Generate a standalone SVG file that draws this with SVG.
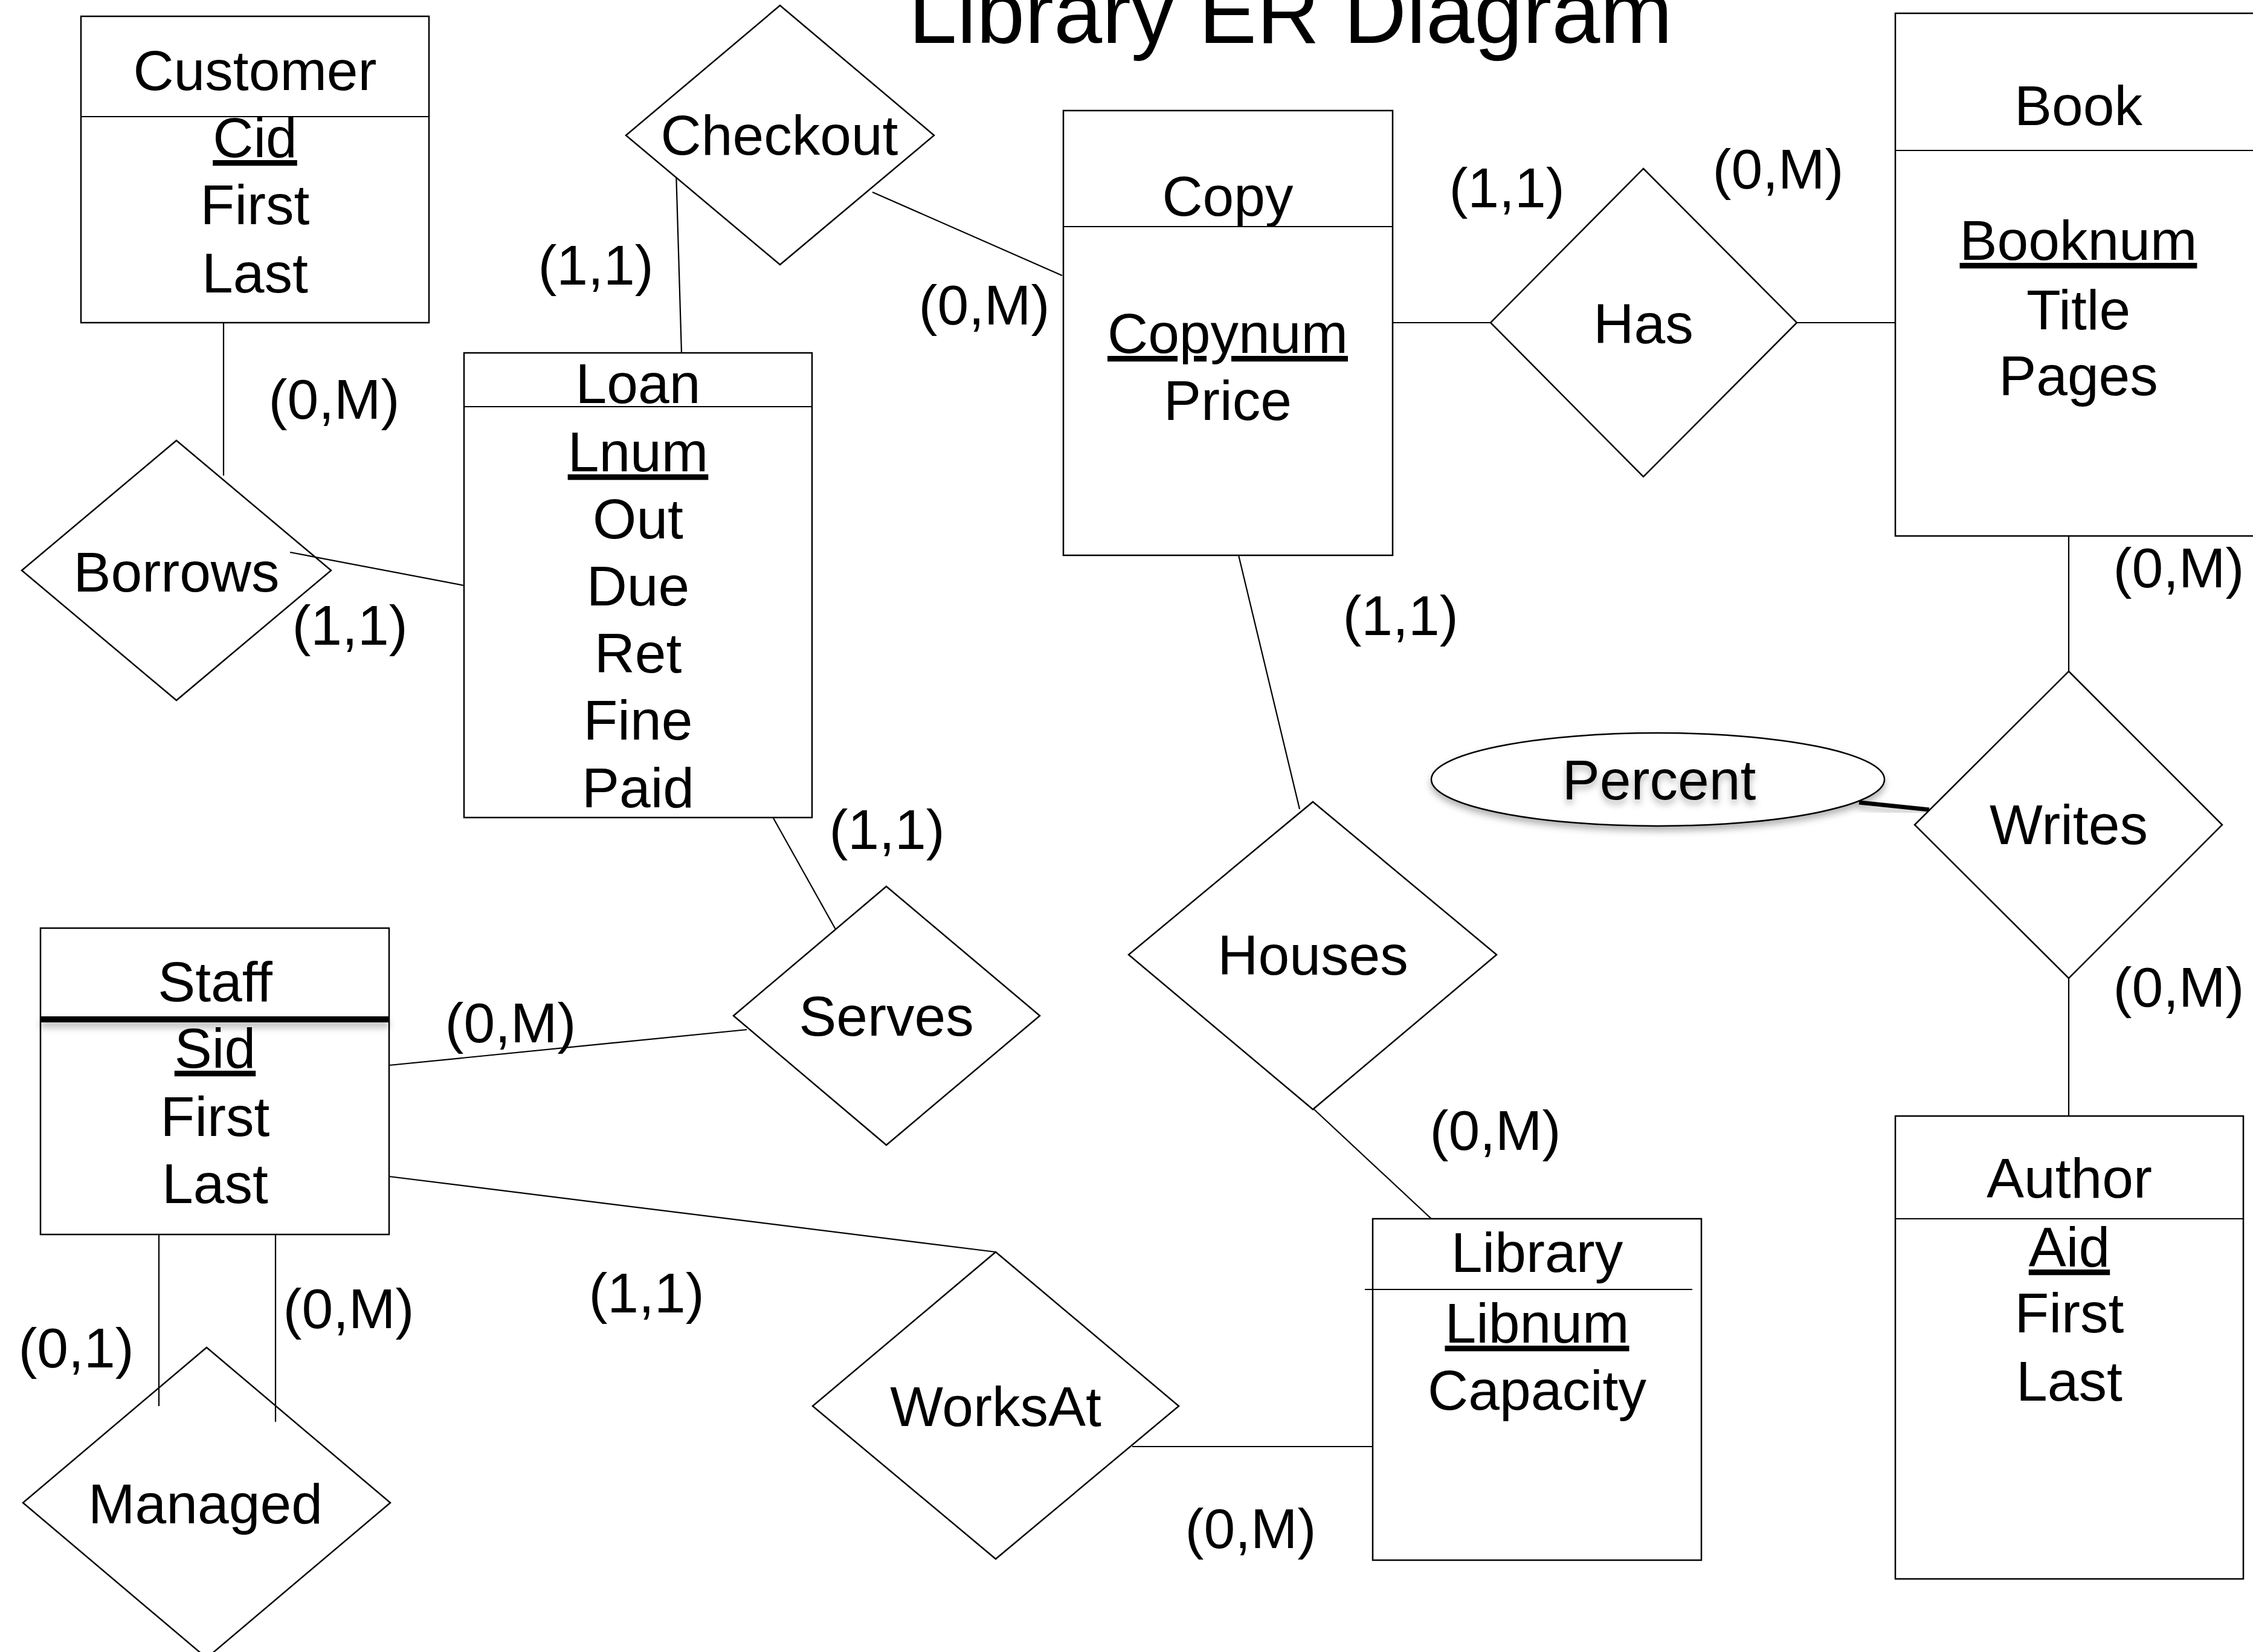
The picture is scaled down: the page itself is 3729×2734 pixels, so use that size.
<svg xmlns="http://www.w3.org/2000/svg" width="3729" height="2734" viewBox="0 0 3729 2734">
<style>
.bx{fill:#fff;stroke:#000;stroke-width:2.5}
.ln{stroke:#000;stroke-width:2.2;fill:none}
.t{font-family:"Liberation Sans",Arial,sans-serif;font-size:93px;text-anchor:middle;fill:#000}
.u{text-decoration:underline}
</style>
<defs>
<filter id="sh" x="-20%" y="-40%" width="140%" height="180%">
<feDropShadow dx="0" dy="7" stdDeviation="6" flood-color="#000" flood-opacity="0.3"/>
</filter>
<filter id="sh2" filterUnits="userSpaceOnUse" x="40" y="1660" width="640" height="80">
<feDropShadow dx="0" dy="8" stdDeviation="6" flood-color="#000" flood-opacity="0.3"/>
</filter>
</defs>
<rect width="3729" height="2734" fill="#fff"/>
<text class="t" x="2136" y="71" style="font-size:144px">Library ER Diagram</text>
<g id="connectors">
<line class="ln" x1="370" y1="534" x2="370" y2="787"/>
<line class="ln" x1="480" y1="914" x2="768" y2="969"/>
<line class="ln" x1="1119" y1="282" x2="1128" y2="584"/>
<line class="ln" x1="1444" y1="318" x2="1758" y2="456"/>
<line class="ln" x1="2305" y1="534" x2="2467" y2="534"/>
<line class="ln" x1="2974" y1="534" x2="3137" y2="534"/>
<line class="ln" x1="2050" y1="919" x2="2151" y2="1339"/>
<line class="ln" x1="2175" y1="1836" x2="2369" y2="2017"/>
<line class="ln" x1="3424" y1="887" x2="3424" y2="1111"/>
<line class="ln" x1="3424" y1="1619" x2="3424" y2="1847"/>
<line class="ln" x1="3077" y1="1328" x2="3193" y2="1340" style="stroke-width:7" filter="url(#sh)"/>
<line class="ln" x1="1280" y1="1354" x2="1383" y2="1538"/>
<line class="ln" x1="644" y1="1763" x2="1236" y2="1704"/>
<line class="ln" x1="644" y1="1947" x2="1648" y2="2072"/>
<line class="ln" x1="1874" y1="2394" x2="2272" y2="2394"/>
<line class="ln" x1="263" y1="2025" x2="263" y2="2327"/>
<line class="ln" x1="456" y1="2043" x2="456" y2="2353"/>
</g>
<g id="labels">
<text class="t" x="553" y="693">(0,M)</text>
<text class="t" x="579" y="1067">(1,1)</text>
<text class="t" x="986" y="471">(1,1)</text>
<text class="t" x="1629" y="537">(0,M)</text>
<text class="t" x="2494" y="343">(1,1)</text>
<text class="t" x="2943" y="312">(0,M)</text>
<text class="t" x="3606" y="972">(0,M)</text>
<text class="t" x="2318" y="1051">(1,1)</text>
<text class="t" x="3606" y="1666">(0,M)</text>
<text class="t" x="2475" y="1903">(0,M)</text>
<text class="t" x="1468" y="1405">(1,1)</text>
<text class="t" x="845" y="1725">(0,M)</text>
<text class="t" x="1070" y="2172">(1,1)</text>
<text class="t" x="2070" y="2562">(0,M)</text>
<text class="t" x="126" y="2263">(0,1)</text>
<text class="t" x="577" y="2198">(0,M)</text>
</g>
<g id="customer">
<rect class="bx" x="134" y="27" width="576" height="507"/>
<line class="ln" x1="134" y1="193" x2="710" y2="193"/>
<text class="t" x="422" y="149">Customer</text>
<text class="t u" x="422" y="260">Cid</text>
<text class="t" x="422" y="371">First</text>
<text class="t" x="422" y="484">Last</text>
</g>
<g id="checkout">
<polygon class="bx" points="1291,9 1546,224 1291,438 1036,224"/>
<text class="t" x="1290" y="256">Checkout</text>
</g>
<g id="loan">
<rect class="bx" x="768" y="584" width="576" height="769"/>
<line class="ln" x1="768" y1="673" x2="1344" y2="673"/>
<text class="t" x="1056" y="667">Loan</text>
<text class="t u" x="1056" y="780">Lnum</text>
<text class="t" x="1056" y="891">Out</text>
<text class="t" x="1056" y="1002">Due</text>
<text class="t" x="1056" y="1113">Ret</text>
<text class="t" x="1056" y="1224">Fine</text>
<text class="t" x="1056" y="1336">Paid</text>
</g>
<g id="borrows">
<polygon class="bx" points="292,729 548,944 292,1159 36,944" style="fill:none"/>
<text class="t" x="292" y="979">Borrows</text>
</g>
<g id="copy">
<rect class="bx" x="1760" y="183" width="545" height="736"/>
<line class="ln" x1="1760" y1="375" x2="2305" y2="375"/>
<text class="t" x="2032" y="357">Copy</text>
<text class="t u" x="2032" y="584">Copynum</text>
<text class="t" x="2032" y="695">Price</text>
</g>
<g id="has">
<polygon class="bx" points="2720,279 2974,534 2720,789 2467,534"/>
<text class="t" x="2720" y="568">Has</text>
</g>
<g id="book">
<rect class="bx" x="3137" y="22" width="620" height="865"/>
<line class="ln" x1="3137" y1="249" x2="3757" y2="249"/>
<text class="t" x="3440" y="207">Book</text>
<text class="t u" x="3440" y="430">Booknum</text>
<text class="t" x="3440" y="545">Title</text>
<text class="t" x="3440" y="654">Pages</text>
</g>
<g id="writes">
<polygon class="bx" points="3424,1111 3678,1365 3424,1619 3169,1365"/>
<text class="t" x="3424" y="1397">Writes</text>
</g>
<g id="author">
<rect class="bx" x="3137" y="1847" width="576" height="766"/>
<line class="ln" x1="3137" y1="2017" x2="3713" y2="2017"/>
<text class="t" x="3425" y="1982">Author</text>
<text class="t u" x="3425" y="2096">Aid</text>
<text class="t" x="3425" y="2205">First</text>
<text class="t" x="3425" y="2318">Last</text>
</g>
<g id="percent">
<ellipse class="bx" cx="2744" cy="1290" rx="375" ry="77" filter="url(#sh)"/>
<text class="t" x="2746" y="1323" filter="url(#sh)">Percent</text>
</g>
<g id="houses">
<polygon class="bx" points="2173,1327 2477,1580 2173,1836 1868,1580"/>
<text class="t" x="2173" y="1613">Houses</text>
</g>
<g id="library">
<rect class="bx" x="2272" y="2017" width="544" height="565"/>
<line class="ln" x1="2259" y1="2134" x2="2801" y2="2134"/>
<text class="t" x="2544" y="2105">Library</text>
<text class="t u" x="2544" y="2222">Libnum</text>
<text class="t" x="2544" y="2333">Capacity</text>
</g>
<g id="worksat">
<polygon class="bx" points="1648,2072 1951,2327 1648,2580 1345,2327"/>
<text class="t" x="1648" y="2360">WorksAt</text>
</g>
<g id="staff">
<rect class="bx" x="67" y="1536" width="577" height="507"/>
<rect x="67" y="1682" width="577" height="10" fill="#000" filter="url(#sh2)"/>
<text class="t" x="356" y="1657">Staff</text>
<text class="t u" x="356" y="1767">Sid</text>
<text class="t" x="356" y="1880">First</text>
<text class="t" x="356" y="1991">Last</text>
</g>
<g id="serves">
<polygon class="bx" points="1467,1467 1721,1681 1467,1895 1214,1681"/>
<text class="t" x="1467" y="1714">Serves</text>
</g>
<g id="managed">
<polygon class="bx" points="342,2230 646,2487 342,2744 38,2487" style="fill:none"/>
<text class="t" x="340" y="2521">Managed</text>
</g>
</svg>
